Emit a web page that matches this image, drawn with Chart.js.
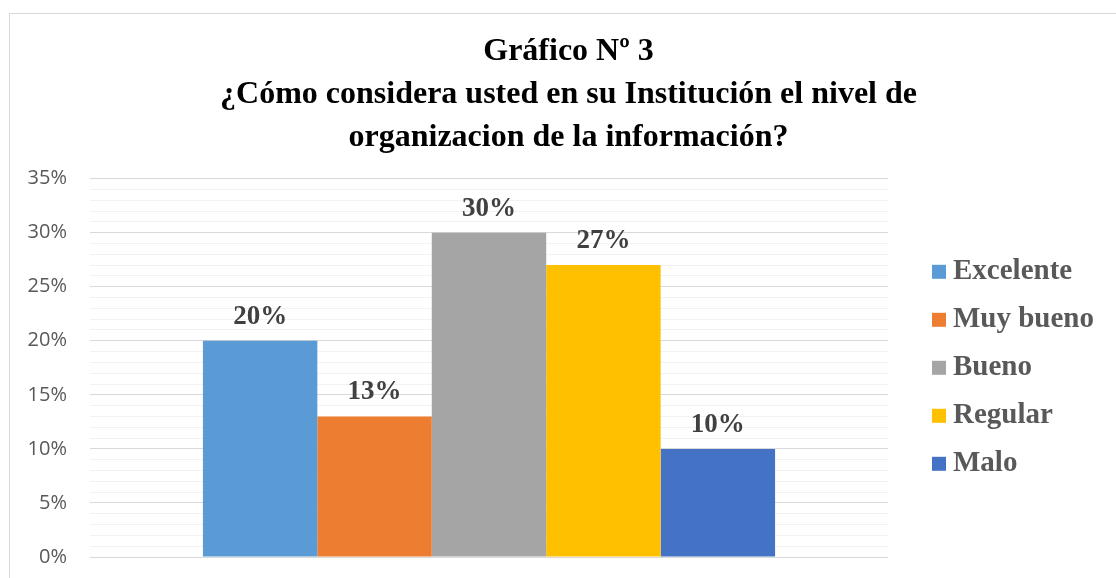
<!DOCTYPE html>
<html>
<head>
<meta charset="utf-8">
<script src="https://cdn.jsdelivr.net/npm/chart.js@4.4.1/dist/chart.umd.min.js"></script>
<style>
  html, body { margin: 0; padding: 0; background: #fff; overflow: hidden; }
  #frame { position: absolute; left: 9px; top: 13px; width: 1200px; height: 700px; border: 1.5px solid #d9d9d9; }
  #wrap { position: absolute; left: 0; top: 0; width: 1116px; height: 578px; }
</style>
</head>
<body>
<div id="frame"></div>
<div id="wrap"><canvas id="myChart"></canvas></div>
<script>
const titleLines = ['Gráfico Nº 3', '¿Cómo considera usted en su Institución el nivel de', 'organizacion de la información?']
const categories = ['Excelente', 'Muy bueno', 'Bueno', 'Regular', 'Malo']
const values = [20, 13, 30, 27, 10]
const colors = ['#5B9BD5', '#ED7D31', '#A5A5A5', '#FFC000', '#4472C4']
const yTicks = [0, 5, 10, 15, 20, 25, 30, 35]

const serif = '"Liberation Serif", "Times New Roman", serif'

// draws the % value above each bar
const valueLabels = {
    id: 'valueLabels',
    afterDatasetsDraw(chart) {
        const ctx = chart.ctx
        ctx.save()
        ctx.font = 'bold 27px ' + serif
        ctx.fillStyle = '#404040'
        ctx.textAlign = 'center'
        ctx.textBaseline = 'alphabetic'
        chart.data.datasets.forEach((ds, i) => {
            const bar = chart.getDatasetMeta(i).data[0]
            ctx.fillText(ds.data[0] + '%', bar.x, bar.y - 17)
        })
        ctx.restore()
    }
}

// small square markers, closer to the text than chart.js puts them
const legendSquares = {
    id: 'legendSquares',
    afterDraw(chart) {
        const ctx = chart.ctx
        const boxes = chart.legend.legendHitBoxes
        ctx.save()
        boxes.forEach((b, i) => {
            ctx.fillStyle = colors[i]
            ctx.fillRect(b.left - 6.5, b.top + b.height / 2 - 7, 14, 14)
        })
        ctx.restore()
    }
}

const datasets = categories.map((name, i) => ({
    label: name,
    data: [values[i]],
    backgroundColor: colors[i],
    borderWidth: 0,
    categoryPercentage: 0.717,
    barPercentage: 1
}))

// hidden axes used only as spacers around the legend
const spacer = (w, weight) => ({
    display: false,
    position: 'right',
    weight: weight,
    afterFit: (s) => { s.width = w }
})

var ctx = document.getElementById('myChart').getContext('2d');
var chart = new Chart(ctx, {
    type: 'bar',
    data: {
        labels: [''],
        datasets: datasets
    },
    plugins: [valueLabels, legendSquares],
    options: {
        responsive: true,
        maintainAspectRatio: false,
        animation: false,
        layout: { padding: { left: 27, right: 6, top: 0, bottom: 21 } },
        plugins: {
            tooltip: { enabled: false },
            title: {
                display: true,
                text: titleLines,
                color: '#000',
                font: { family: serif, size: 32, weight: 'bold', lineHeight: 1.35 },
                padding: { top: 30, bottom: 19 }
            },
            legend: {
                position: 'right',
                align: 'center',
                fullSize: false,
                labels: {
                    boxWidth: 0,
                    boxHeight: 14,
                    padding: 19,
                    color: '#595959',
                    font: { family: serif, size: 29, weight: 'bold' }
                }
            }
        },
        scales: {
            x: { display: false },
            y: {
                min: 0,
                max: 35,
                afterFit: (s) => { s.width = 63 },
                border: { display: false },
                grid: {
                    drawTicks: true,
                    tickLength: 14,
                    tickColor: 'rgba(0,0,0,0)',
                    color: (c) => yTicks.includes(c.tick.value) ? '#d9d9d9' : '#f2f2f2',
                    lineWidth: 1
                },
                ticks: {
                    stepSize: 1,
                    autoSkip: false,
                    padding: 9,
                    color: '#595959',
                    font: { family: '"Open Sans", sans-serif', size: 20 },
                    callback: (v) => yTicks.includes(v) ? v + '%' : ''
                }
            },
            y2: spacer(31.5, 0),
            y3: spacer(6, 2000)
        }
    }
});
</script>
</body>
</html>
